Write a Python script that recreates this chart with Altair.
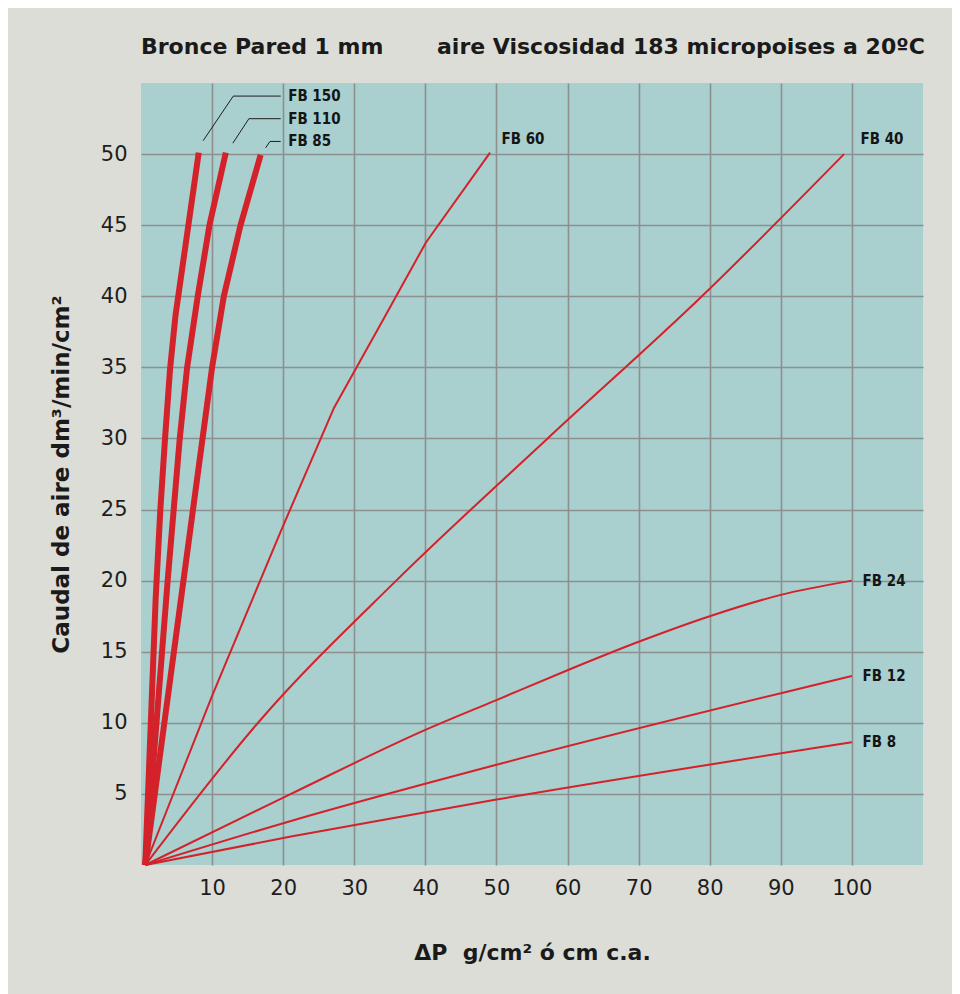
import altair as alt
import pandas as pd

# ---------------- text ----------------
TITLE_LEFT = "Bronce Pared 1 mm"
TITLE_RIGHT = "aire Viscosidad 183 micropoises a 20ºC"
X_TITLE = "ΔP\u00a0\u00a0g/cm² ó cm c.a."
Y_TITLE = "Caudal de aire dm³/min/cm²"

x_ticks = [10, 20, 30, 40, 50, 60, 70, 80, 90, 100]
y_ticks = [5, 10, 15, 20, 25, 30, 35, 40, 45, 50]

# ---------------- curves ----------------
fb150_x = [0.6, 2.06, 2.72, 3.38, 4.09, 4.84, 8.12]
fb150_y = [0.0, 18.7, 25.0, 30.0, 34.9, 38.6, 50.1]

fb110_x = [0.6, 3.75, 4.6, 5.45, 6.49, 7.98, 9.63, 11.93]
fb110_y = [0.0, 20.0, 25.0, 30.0, 35.0, 40.0, 45.0, 50.1]

fb85_x = [0.6, 10.0, 11.65, 14.0, 16.83]
fb85_y = [0.0, 35.0, 40.0, 45.0, 49.95]

fb60_x = [0.6, 10.0, 19.6, 27.1, 34.0, 40.1, 49.1]
fb60_y = [0.0, 11.9, 23.4, 32.1, 38.3, 43.8, 50.1]

fb40_x = [0.6, 16.8, 35.9, 57.2, 78.9, 98.9]
fb40_y = [0.0, 10.2, 20.0, 30.0, 40.0, 50.0]

fb24_x = [0.6, 21.1, 40.0, 50.0, 60.0, 70.0, 80.0, 90.0, 100.0]
fb24_y = [0.0, 5.0, 9.5, 11.6, 13.7, 15.7, 17.5, 19.0, 20.0]

fb12_x = [0.6, 21.1, 50.0, 100.0]
fb12_y = [0.0, 3.1, 7.05, 13.3]

fb8_x = [0.6, 21.1, 50.0, 100.0]
fb8_y = [0.0, 2.0, 4.6, 8.63]

series_names = ["FB 150", "FB 110", "FB 85", "FB 60", "FB 40", "FB 24", "FB 12", "FB 8"]
series_x = [fb150_x, fb110_x, fb85_x, fb60_x, fb40_x, fb24_x, fb12_x, fb8_x]
series_y = [fb150_y, fb110_y, fb85_y, fb60_y, fb40_y, fb24_y, fb12_y, fb8_y]
thick_series = ["FB 150", "FB 110", "FB 85"]
smooth_series = ["FB 40", "FB 24", "FB 12", "FB 8"]

# ---------------- labels ----------------
label_names = ["FB 150", "FB 110", "FB 85", "FB 60", "FB 40", "FB 24", "FB 12", "FB 8"]
label_x = [20.7, 20.7, 20.7, 50.7, 101.2, 101.5, 101.5, 101.5]
label_y = [54.08, 52.49, 50.89, 51.03, 51.05, 19.97, 13.28, 8.63]

leader_names = ["FB 150", "FB 110", "FB 85"]
leader_x = [[19.65, 12.98, 8.74], [19.65, 15.18, 12.92], [19.65, 18.14, 17.53]]
leader_y = [[54.08, 54.08, 50.94], [52.49, 52.49, 50.77], [50.89, 50.89, 50.44]]

# ---------------- tables ----------------
rows = []
for n, xs, ys in zip(series_names, series_x, series_y):
    w = 6 if n in thick_series else 2
    s = "smooth" if n in smooth_series else "linear"
    for i, (a, b) in enumerate(zip(xs, ys)):
        rows.append({"name": n, "x": a, "y": b, "order": i, "w": w, "kind": s})
df_lines = pd.DataFrame(rows)

rows = []
for n, xs, ys in zip(leader_names, leader_x, leader_y):
    for i, (a, b) in enumerate(zip(xs, ys)):
        rows.append({"name": n, "x": a, "y": b, "order": i})
df_lead = pd.DataFrame(rows)

df_lab = pd.DataFrame({"label": label_names, "x": label_x, "y": label_y})

RED = "#d3222a"
xscale = alt.Scale(domain=[0, 110], nice=False, zero=False)
yscale = alt.Scale(domain=[0, 55], nice=False, zero=False)

x_enc = alt.X("x:Q", scale=xscale,
              axis=alt.Axis(values=x_ticks, title=X_TITLE, labelPadding=12,
                            titlePadding=44, titleFontSize=22))
y_enc = alt.Y("y:Q", scale=yscale,
              axis=alt.Axis(values=y_ticks, title=Y_TITLE, labelPadding=14,
                            titlePadding=27, titleFontSize=23))

base = alt.Chart(df_lines)

lines_linear = base.transform_filter(alt.datum.kind == "linear").mark_line(
    color=RED, strokeCap="butt", strokeJoin="round"
).encode(
    x=x_enc, y=y_enc, detail="name:N", order="order:Q",
    strokeWidth=alt.StrokeWidth("w:Q", scale=None),
)

lines_smooth = base.transform_filter(alt.datum.kind == "smooth").mark_line(
    color=RED, strokeCap="butt", interpolate="monotone"
).encode(
    x=x_enc, y=y_enc, detail="name:N", order="order:Q",
    strokeWidth=alt.StrokeWidth("w:Q", scale=None),
)

leaders = alt.Chart(df_lead).mark_line(color="#1e1e1e", strokeWidth=1).encode(
    x=x_enc, y=y_enc, detail="name:N", order="order:Q",
)

labels = alt.Chart(df_lab).mark_text(
    align="left", baseline="middle", font="DejaVu Sans Condensed",
    fontSize=15, fontWeight="bold", color="#151515",
).encode(
    x=x_enc, y=y_enc, text="label:N",
)

chart = alt.layer(lines_smooth, lines_linear, leaders, labels).properties(
    width=782,
    height=782,
    autosize=alt.AutoSizeParams(type="none"),
    padding={"left": 133, "top": 75, "right": 29, "bottom": 129},
    background="#dcddd7",
    title=alt.TitleParams(
        text=TITLE_LEFT + "\u00a0" * 7 + TITLE_RIGHT,
        anchor="start", frame="group", font="DejaVu Sans", fontSize=22,
        fontWeight="bold", color="#1a1a1a", offset=24,
    ),
).configure_view(
    fill="#a9cfcf", strokeWidth=0,
).configure_axis(
    domain=False, ticks=False, grid=True, gridColor="#8e9090", gridWidth=1.6,
    labelFont="DejaVu Sans", labelFontSize=21, labelColor="#1e1e1e",
    titleFont="DejaVu Sans", titleFontWeight="bold", titleColor="#1a1a1a",
)

chart.save("out.html", embed_options={"renderer": "svg", "actions": False})
